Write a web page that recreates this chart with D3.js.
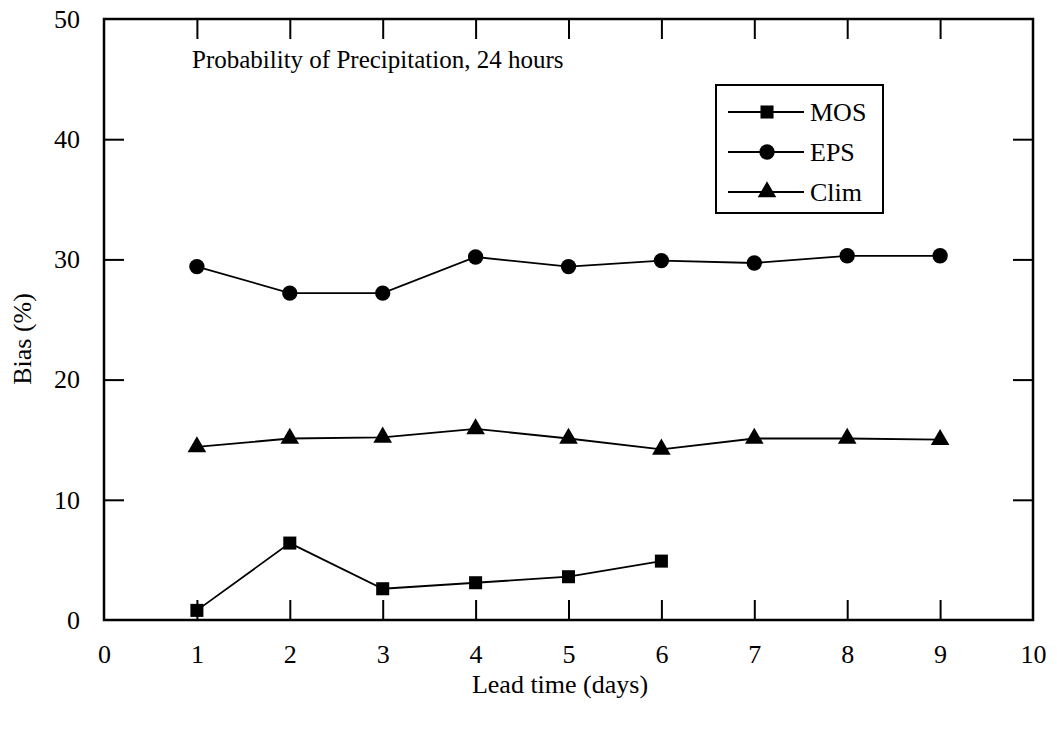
<!DOCTYPE html>
<html>
<head>
<meta charset="utf-8">
<script src="https://cdn.jsdelivr.net/npm/d3@7"></script>
<style>
  body { margin: 0; background: #fff; }
  svg { display: block; }
  text { font-family: "Liberation Serif", "Times New Roman", serif; fill: #000; }
</style>
</head>
<body>
<div id="chart"></div>
<script>
const width = 1057;
const height = 731;

// lead time in days
const leadDays = [1, 2, 3, 4, 5, 6, 7, 8, 9];
const mosDays = [1, 2, 3, 4, 5, 6];

// bias (%) per series
const mosBias = [0.8, 6.4, 2.6, 3.1, 3.6, 4.9];
const epsBias = [29.4, 27.2, 27.2, 30.2, 29.4, 29.9, 29.7, 30.3, 30.3];
const climBias = [14.4, 15.1, 15.2, 15.9, 15.1, 14.2, 15.1, 15.1, 15.0];

const xTicks = [0, 1, 2, 3, 4, 5, 6, 7, 8, 9, 10];
const yTicks = [0, 10, 20, 30, 40, 50];

const seriesNames = ["MOS", "EPS", "Clim"];

const plot = { left: 104, right: 1033, top: 19, bottom: 620 };

const x = d3.scaleLinear().domain([0, 10]).range([plot.left, plot.right]);
const y = d3.scaleLinear().domain([0, 50]).range([plot.bottom, plot.top]);

const svg = d3.select("#chart")
  .append("svg")
  .attr("width", width)
  .attr("height", height);

// axes, ticks point inward
const bottomAxis = svg.append("g")
  .attr("transform", `translate(0,${plot.bottom})`)
  .call(d3.axisBottom(x).tickValues(xTicks).tickFormat(d3.format("d")).tickSize(-20).tickSizeOuter(0).tickPadding(25));

const topAxis = svg.append("g")
  .attr("transform", `translate(0,${plot.top})`)
  .call(d3.axisTop(x).tickValues(xTicks.slice(1, -1)).tickFormat("").tickSize(-20).tickSizeOuter(0));

const leftAxis = svg.append("g")
  .attr("transform", `translate(${plot.left},0)`)
  .call(d3.axisLeft(y).tickValues(yTicks).tickFormat(d3.format("d")).tickSize(-20).tickSizeOuter(0).tickPadding(24));

const rightAxis = svg.append("g")
  .attr("transform", `translate(${plot.right},0)`)
  .call(d3.axisRight(y).tickValues(yTicks.slice(1, -1)).tickFormat("").tickSize(-20).tickSizeOuter(0));

[bottomAxis, topAxis, leftAxis, rightAxis].forEach(g => {
  g.select(".domain").remove();
  g.selectAll(".tick line").attr("stroke", "#000").attr("stroke-width", 2);
  g.selectAll(".tick text")
    .style("font-family", "'Liberation Serif', serif")
    .style("font-size", "26px")
    .attr("fill", "#000");
});

// no tick marks on the frame corners
bottomAxis.selectAll(".tick line").filter(d => d === 0 || d === 10).remove();
leftAxis.selectAll(".tick line").filter(d => d === 0 || d === 50).remove();

// frame
svg.append("rect")
  .attr("x", plot.left)
  .attr("y", plot.top)
  .attr("width", plot.right - plot.left)
  .attr("height", plot.bottom - plot.top)
  .attr("fill", "none")
  .attr("stroke", "#000")
  .attr("stroke-width", 2.5);

// axis titles
svg.append("text")
  .attr("x", 560)
  .attr("y", 693)
  .attr("text-anchor", "middle")
  .style("font-size", "26px")
  .text("Lead time (days)");

svg.append("text")
  .attr("transform", "translate(31,339) rotate(-90)")
  .attr("text-anchor", "middle")
  .style("font-size", "26px")
  .text("Bias (%)");

// title inside the plot
svg.append("text")
  .attr("x", 192)
  .attr("y", 68)
  .style("font-size", "25px")
  .text("Probability of Precipitation, 24 hours");

const symbols = {
  MOS: d3.symbol().type(d3.symbolSquare).size(170),
  EPS: d3.symbol().type(d3.symbolCircle).size(185),
  Clim: d3.symbol().type(d3.symbolTriangle).size(150)
};

const line = d3.line().x(d => x(d[0])).y(d => y(d[1]));

function drawSeries(name, days, values) {
  const pts = days.map((d, i) => [d, values[i]]);
  svg.append("path")
    .datum(pts)
    .attr("d", line)
    .attr("fill", "none")
    .attr("stroke", "#000")
    .attr("stroke-width", 1.8);
  svg.selectAll(`path.m-${name}`)
    .data(pts)
    .enter()
    .append("path")
    .attr("class", `m-${name}`)
    .attr("transform", d => `translate(${x(d[0])},${y(d[1])})`)
    .attr("d", symbols[name])
    .attr("fill", "#000");
}

drawSeries("MOS", mosDays, mosBias);
drawSeries("EPS", leadDays, epsBias);
drawSeries("Clim", leadDays, climBias);

// legend
const legend = svg.append("g");
legend.append("rect")
  .attr("x", 716)
  .attr("y", 85)
  .attr("width", 167)
  .attr("height", 128)
  .attr("fill", "#fff")
  .attr("stroke", "#000")
  .attr("stroke-width", 2);

seriesNames.forEach((name, i) => {
  const ly = 112 + i * 40;
  legend.append("line")
    .attr("x1", 728).attr("x2", 804)
    .attr("y1", ly).attr("y2", ly)
    .attr("stroke", "#000")
    .attr("stroke-width", 1.8);
  legend.append("path")
    .attr("transform", `translate(767,${ly})`)
    .attr("d", symbols[name])
    .attr("fill", "#000");
  legend.append("text")
    .attr("x", 810)
    .attr("y", ly + 9)
    .style("font-size", "26px")
    .text(name);
});
</script>
</body>
</html>
